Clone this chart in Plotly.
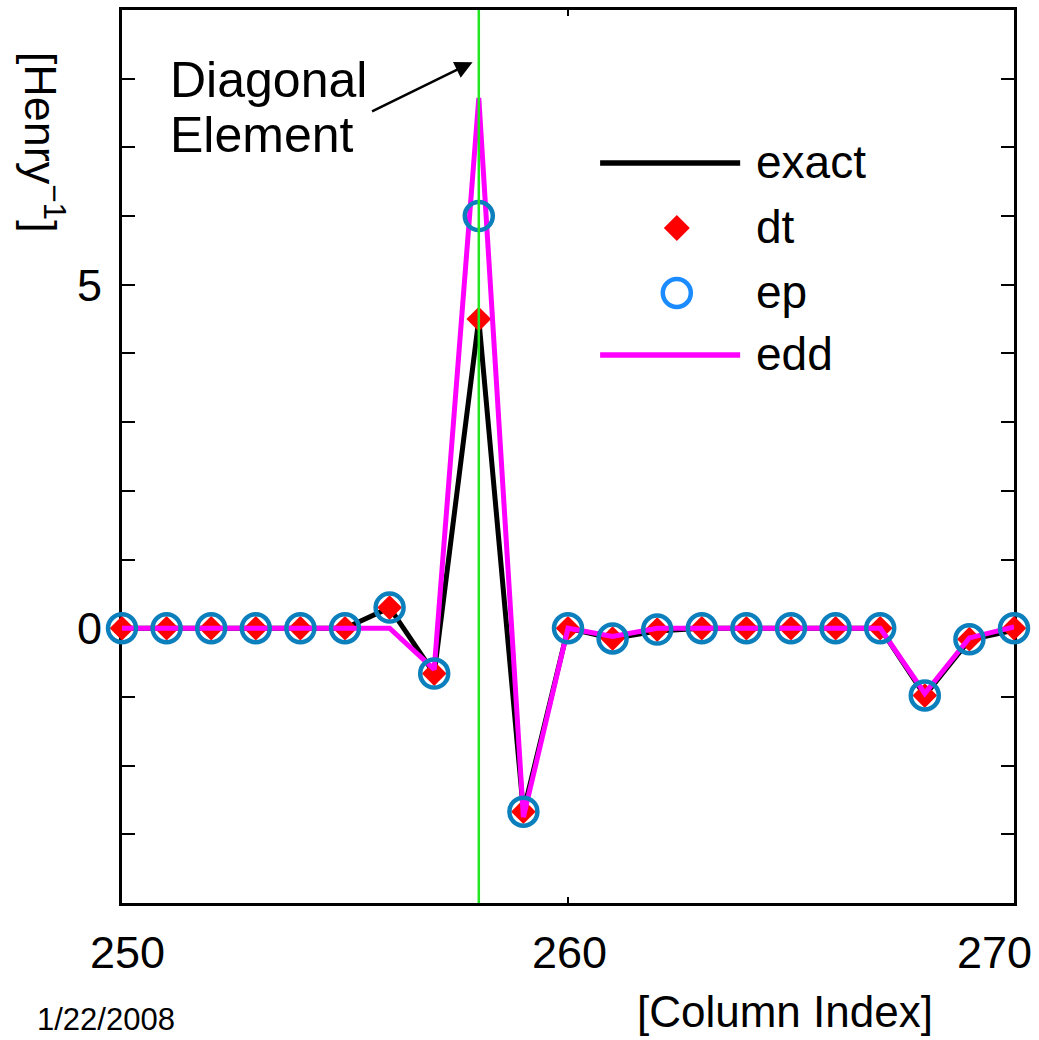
import plotly.graph_objects as go

# ---------------- data ----------------
column_index = list(range(250, 271))
exact = [0, 0, 0, 0, 0, 0, 0.30, -0.66, 4.50, -2.67, 0, -0.15, -0.04, 0, 0, 0, 0, 0, -0.98, -0.17, -0.03]
dt    = [0, 0, 0, 0, 0, 0, 0.30, -0.66, 4.50, -2.67, 0, -0.15, -0.02, 0, 0, 0, 0, 0, -0.98, -0.16, 0]
ep    = [0, 0, 0, 0, 0, 0, 0.30, -0.66, 6.00, -2.67, 0, -0.15, -0.02, 0, 0, 0, 0, 0, -0.98, -0.16, 0]
edd   = [0, 0, 0, 0, 0, 0, 0.00, -0.60, 7.72, -2.75, 0, -0.12, 0.00, 0, 0, 0, 0, 0, -0.95, -0.14, 0.02]

diagonal_column = 258
x_tick_vals = [250, 260, 270]
x_tick_text = ["250", "260", "270"]
x_tick_nudge = [5, 1, -20]          # label offsets (px) as placed in the original figure
y_tick_vals = list(range(-4, 10))
y_tick_text = ["0" if v == 0 else ("5" if v == 5 else "") for v in y_tick_vals]
series_names = ["exact", "dt", "ep", "edd"]

FONT = "Liberation Sans, Arial, sans-serif"
BLACK = "#000000"
RED = "#ff0000"
BLUE = "#0c7fbd"
BLUE_LEG = "#1a8cff"
MAGENTA = "#ff00ff"
GREEN = "#22e622"

fig = go.Figure()

fig.add_trace(go.Scatter(x=column_index, y=exact, mode="lines",
                         line=dict(color=BLACK, width=5), showlegend=False, cliponaxis=False))
fig.add_trace(go.Scatter(x=column_index, y=dt, mode="markers",
                         marker=dict(symbol="diamond", size=19, color=RED, line=dict(width=0)),
                         showlegend=False, cliponaxis=False))
fig.add_trace(go.Scatter(x=column_index, y=edd, mode="lines",
                         line=dict(color=MAGENTA, width=5), showlegend=False, cliponaxis=False))
fig.add_trace(go.Scatter(x=column_index, y=ep, mode="markers",
                         marker=dict(symbol="circle-open", size=28, color=BLUE, line=dict(width=4.5, color=BLUE)),
                         showlegend=False, cliponaxis=False))

# ---------------- manual legend on an overlay axis ----------------
leg_x_line = [0.536, 0.693]
leg_x_mark = 0.622
leg_x_text = 0.708
leg_y = [0.8287, 0.7559, 0.6831, 0.6137]

fig.add_trace(go.Scatter(x=leg_x_line, y=[leg_y[0]] * 2, mode="lines", xaxis="x2", yaxis="y2",
                         line=dict(color=BLACK, width=5.5), showlegend=False, hoverinfo="skip"))
fig.add_trace(go.Scatter(x=[leg_x_mark], y=[leg_y[1]], mode="markers", xaxis="x2", yaxis="y2",
                         marker=dict(symbol="diamond", size=20, color=RED), showlegend=False, hoverinfo="skip"))
fig.add_trace(go.Scatter(x=[leg_x_mark], y=[leg_y[2]], mode="markers", xaxis="x2", yaxis="y2",
                         marker=dict(symbol="circle-open", size=28, color=BLUE_LEG, line=dict(width=4.5, color=BLUE_LEG)),
                         showlegend=False, hoverinfo="skip"))
fig.add_trace(go.Scatter(x=leg_x_line, y=[leg_y[3]] * 2, mode="lines", xaxis="x2", yaxis="y2",
                         line=dict(color=MAGENTA, width=5.5), showlegend=False, hoverinfo="skip"))

annotations = []
for name, yy in zip(series_names, leg_y):
    annotations.append(dict(text=name, x=leg_x_text, y=yy + 0.001, xref="paper", yref="paper",
                            xanchor="left", yanchor="middle", showarrow=False,
                            font=dict(family=FONT, size=46, color=BLACK)))

# x tick labels (placed along the x axis scale)
for val, txt, nudge in zip(x_tick_vals, x_tick_text, x_tick_nudge):
    annotations.append(dict(text=txt, x=val, y=-0.0549, xref="x", yref="paper",
                            xanchor="center", yanchor="middle", xshift=nudge, showarrow=False,
                            font=dict(family=FONT, size=45, color=BLACK)))

# Diagonal element text + arrow
annotations.append(dict(text="Diagonal", x=0.0516, y=0.9216, xref="paper", yref="paper",
                        xanchor="left", yanchor="middle", showarrow=False,
                        font=dict(family=FONT, size=50, color=BLACK)))
annotations.append(dict(text="Element", x=0.0516, y=0.860, xref="paper", yref="paper",
                        xanchor="left", yanchor="middle", showarrow=False,
                        font=dict(family=FONT, size=50, color=BLACK)))
annotations.append(dict(text="", x=257.86, y=8.24, xref="x", yref="y",
                        ax=-102, ay=50, axref="pixel", ayref="pixel",
                        showarrow=True, arrowhead=2, arrowsize=1.4, arrowwidth=2.5,
                        arrowcolor=BLACK, standoff=0))

# axis titles
annotations.append(dict(text="[Henry<sup>\u22121</sup>]", x=-0.088, y=0.852, xref="paper", yref="paper",
                        xanchor="center", yanchor="middle", textangle=90, showarrow=False,
                        font=dict(family=FONT, size=45, color=BLACK)))
annotations.append(dict(text="[Column Index]", x=0.743, y=-0.121, xref="paper", yref="paper",
                        xanchor="center", yanchor="middle", showarrow=False,
                        font=dict(family=FONT, size=44, color=BLACK)))
annotations.append(dict(text="1/22/2008", x=-0.0975, y=-0.131, xref="paper", yref="paper",
                        xanchor="left", yanchor="middle", showarrow=False,
                        font=dict(family=FONT, size=31, color=BLACK)))

fig.update_layout(
    width=1039, height=1040,
    margin=dict(l=122, r=25, t=10, b=137, pad=0, autoexpand=False),
    paper_bgcolor="white", plot_bgcolor="white",
    showlegend=False,
    font=dict(family=FONT, color=BLACK),
    annotations=annotations,
    shapes=[dict(type="line", xref="x", yref="paper", x0=diagonal_column, x1=diagonal_column,
                 y0=0, y1=1, line=dict(color=GREEN, width=2.5), layer="above")],
    xaxis=dict(range=[250, 270], tickmode="array", tickvals=x_tick_vals, showticklabels=False,
               ticks="inside", ticklen=6, tickwidth=2, tickcolor=BLACK,
               showline=True, linewidth=3, linecolor=BLACK, mirror="ticks",
               showgrid=False, zeroline=False, layer="below traces", automargin=False),
    yaxis=dict(range=[-4, 9], tickmode="array", tickvals=y_tick_vals, ticktext=y_tick_text,
               ticks="inside", ticklen=13, tickwidth=2, tickcolor=BLACK,
               showline=True, linewidth=3, linecolor=BLACK, mirror="ticks",
               showgrid=False, zeroline=False, layer="below traces", automargin=False,
               tickfont=dict(family=FONT, size=45, color=BLACK), ticklabelstandoff=8),
    xaxis2=dict(overlaying="x", range=[0, 1], visible=False, fixedrange=True),
    yaxis2=dict(overlaying="y", range=[0, 1], visible=False, fixedrange=True),
)

fig.write_html("out.html")
